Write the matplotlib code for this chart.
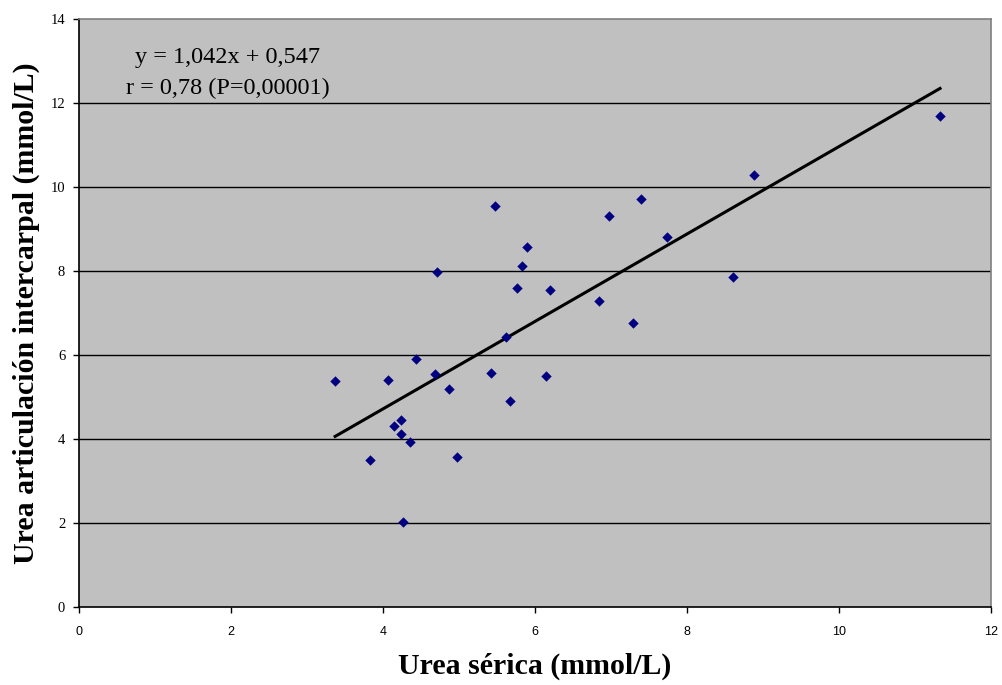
import numpy as np
import matplotlib
matplotlib.use("Agg")
import matplotlib.pyplot as plt

# ── Data ──────────────────────────────────────────────────────────────────────
urea_serica = [3.37, 3.83, 4.06, 4.14, 4.24, 4.24, 4.35, 4.26, 4.44, 4.69,
               4.71, 4.87, 4.98, 5.42, 5.47, 5.62, 5.67, 5.76, 5.83, 5.90,
               6.15, 6.20, 6.84, 6.97, 7.29, 7.39, 7.74, 8.61, 8.88, 11.33]
urea_articular = [5.37, 3.50, 5.40, 4.31, 4.45, 4.12, 3.92, 2.01, 5.90, 5.55,
                  7.98, 5.18, 3.56, 5.56, 9.55, 6.43, 4.90, 7.59, 8.13, 8.57,
                  5.51, 7.56, 7.29, 9.31, 6.77, 9.72, 8.81, 7.86, 10.28, 11.69]

slope, intercept = 1.042, 0.547
x_ticks = [0, 2, 4, 6, 8, 10, 12]
y_ticks = [0, 2, 4, 6, 8, 10, 12, 14]

SERIF = "Liberation Serif"
SANS = "Liberation Sans"

fig = plt.figure(figsize=(10.03, 6.85), dpi=100)
ax = fig.add_axes([0.0788, 0.1143, 0.9092, 0.8575])
ax.set_facecolor("#c0c0c0")

x = np.array(urea_serica)
y = np.array(urea_articular)

for yv in y_ticks[1:-1]:
    ax.axhline(yv, color="black", linewidth=1.0, zorder=1)

x_line = np.array([x.min(), x.max()])
ax.plot(x_line, intercept + slope * x_line, color="black", linewidth=2.2, zorder=2)
ax.scatter(x, y, marker="D", s=28, color="#000080", linewidths=0, zorder=3)

ax.set_xlim(0, 12)
ax.set_ylim(0, 14)
ax.set_xticks(x_ticks)
ax.set_yticks(y_ticks)
ax.set_xticklabels([str(v) for v in x_ticks], fontfamily=SANS, fontsize=9)
ax.set_yticklabels([str(v) for v in y_ticks], fontfamily=SERIF, fontsize=10.5)
ax.tick_params(direction="out", length=4, width=1, color="black")
ax.tick_params(axis="x", pad=10)
ax.tick_params(axis="y", pad=6)

ax.spines["left"].set_color("black")
ax.spines["bottom"].set_color("black")
ax.spines["top"].set_color("#808080")
ax.spines["right"].set_color("#808080")
for s in ax.spines.values():
    s.set_linewidth(1.2)

ax.set_xlabel("Urea sérica (mmol/L)", fontfamily=SERIF, fontweight="bold",
              fontsize=21.5)
ax.xaxis.set_label_coords(0.5, -0.078)
ax.set_ylabel("Urea articulación intercarpal (mmol/L)", fontfamily=SERIF,
              fontweight="bold", fontsize=21.5)
ax.yaxis.set_label_coords(-0.043, 0.5)

ax.text(1.96, 13.10, "y = 1,042x + 0,547", fontfamily=SERIF, fontsize=17.5,
        ha="center", va="center")
ax.text(1.96, 12.36, "r = 0,78 (P=0,00001)", fontfamily=SERIF, fontsize=17.5,
        ha="center", va="center")

fig.savefig("out.png", dpi=100)
